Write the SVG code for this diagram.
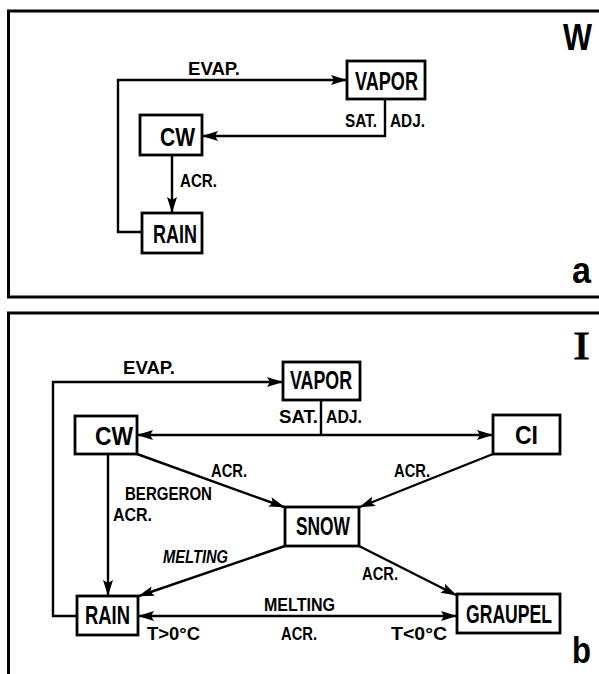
<svg xmlns="http://www.w3.org/2000/svg" width="599" height="674" viewBox="0 0 599 674">
<style>
.panel{fill:none;stroke:#000;stroke-width:3}
.box{fill:#fff;stroke:#000;stroke-width:2.8}
.ln{fill:none;stroke:#000;stroke-width:2.4}
.nl{font-family:"Liberation Sans",Arial,sans-serif;font-weight:bold;font-size:25px;fill:#000}
.sl{font-family:"Liberation Sans",Arial,sans-serif;font-weight:bold;font-size:18px;fill:#000}
.big{font-family:"Liberation Sans",Arial,sans-serif;font-weight:bold;font-size:36px;fill:#000}
</style>
<defs>
<marker id="ah" markerUnits="userSpaceOnUse" markerWidth="16" markerHeight="12" refX="15" refY="6" orient="auto-start-reverse" viewBox="0 0 16 12">
<path d="M0,1 L16,6 L0,11 L3,6 Z" fill="#000"/>
</marker>
</defs>
<rect width="599" height="674" fill="#fff"/>
<g id="panel-a">
<rect class="panel" x="8.5" y="11" width="600" height="286"/>
<text class="big" x="563" y="50" textLength="29" lengthAdjust="spacingAndGlyphs">W</text>
<text class="big" x="572" y="283" textLength="19" lengthAdjust="spacingAndGlyphs">a</text>
</g>
<g id="panel-b">
<rect class="panel" x="8.5" y="313" width="600" height="380"/>
<text x="573" y="359" font-family="Liberation Serif,serif" font-size="39" textLength="17" lengthAdjust="spacingAndGlyphs" stroke="#000" stroke-width="0.8">I</text>
<text class="big" x="572" y="663" textLength="19" lengthAdjust="spacingAndGlyphs">b</text>
</g>
<g id="connectors">
<path class="ln" d="M142,232 H118 V80 H346" marker-end="url(#ah)"/>
<path class="ln" d="M385,99 V136 H203" marker-end="url(#ah)"/>
<path class="ln" d="M172,155 V212" marker-end="url(#ah)"/>
<path class="ln" d="M77,616 H53 V382 H282" marker-end="url(#ah)"/>
<path class="ln" d="M321,400 V435"/>
<path class="ln" d="M321,435 H138" marker-end="url(#ah)"/>
<path class="ln" d="M321,435 H492" marker-end="url(#ah)"/>
<path class="ln" d="M137,454 L284,507" marker-end="url(#ah)"/>
<path class="ln" d="M493,454 L360,507" marker-end="url(#ah)"/>
<path class="ln" d="M108,454 V595" marker-end="url(#ah)"/>
<path class="ln" d="M285,546 L139,596" marker-end="url(#ah)"/>
<path class="ln" d="M359,546 L456,595" marker-end="url(#ah)"/>
<path class="ln" d="M139,616 H456" marker-start="url(#ah)" marker-end="url(#ah)"/>
</g>
<g id="labels">
<text class="sl" x="188" y="75" textLength="52" lengthAdjust="spacingAndGlyphs">EVAP.</text>
<text class="sl" x="345" y="127" textLength="32" lengthAdjust="spacingAndGlyphs">SAT.</text>
<text class="sl" x="390" y="127" textLength="35" lengthAdjust="spacingAndGlyphs">ADJ.</text>
<text class="sl" x="180" y="187" textLength="37" lengthAdjust="spacingAndGlyphs">ACR.</text>
<text class="sl" x="123" y="374" textLength="52" lengthAdjust="spacingAndGlyphs">EVAP.</text>
<text class="sl" x="279" y="423" textLength="39" lengthAdjust="spacingAndGlyphs">SAT.</text>
<text class="sl" x="326" y="423" textLength="36" lengthAdjust="spacingAndGlyphs">ADJ.</text>
<text class="sl" x="211" y="477" textLength="36" lengthAdjust="spacingAndGlyphs">ACR.</text>
<text class="sl" x="125" y="500" textLength="87" lengthAdjust="spacingAndGlyphs">BERGERON</text>
<text class="sl" x="113" y="521" textLength="39" lengthAdjust="spacingAndGlyphs">ACR.</text>
<text class="sl" x="394" y="477" textLength="36" lengthAdjust="spacingAndGlyphs">ACR.</text>
<text class="sl" x="163" y="563" font-style="italic" textLength="65" lengthAdjust="spacingAndGlyphs">MELTING</text>
<text class="sl" x="362" y="580" textLength="36" lengthAdjust="spacingAndGlyphs">ACR.</text>
<text class="sl" x="264" y="611" textLength="71" lengthAdjust="spacingAndGlyphs">MELTING</text>
<text class="sl" x="281" y="640" textLength="36" lengthAdjust="spacingAndGlyphs">ACR.</text>
<text class="sl" x="147" y="640" textLength="53" lengthAdjust="spacingAndGlyphs">T&gt;0°C</text>
<text class="sl" x="391" y="640" textLength="56" lengthAdjust="spacingAndGlyphs">T&lt;0°C</text>
</g>
<g id="a-vapor"><rect class="box" x="347" y="61" width="78" height="38"/><text class="nl" x="355" y="90" textLength="63" lengthAdjust="spacingAndGlyphs">VAPOR</text></g>
<g id="a-cw"><rect class="box" x="140" y="115" width="62" height="40"/><text class="nl" x="160" y="146" textLength="35" lengthAdjust="spacingAndGlyphs">CW</text></g>
<g id="a-rain"><rect class="box" x="142" y="213" width="60" height="40"/><text class="nl" x="153" y="243" textLength="44" lengthAdjust="spacingAndGlyphs">RAIN</text></g>
<g id="b-vapor"><rect class="box" x="283" y="362" width="77" height="38"/><text class="nl" x="290" y="389" textLength="62" lengthAdjust="spacingAndGlyphs">VAPOR</text></g>
<g id="b-cw"><rect class="box" x="75" y="416" width="62" height="38"/><text class="nl" x="95" y="445" textLength="38" lengthAdjust="spacingAndGlyphs">CW</text></g>
<g id="b-ci"><rect class="box" x="493" y="415" width="67" height="39"/><text class="nl" x="515" y="444" textLength="23" lengthAdjust="spacingAndGlyphs">CI</text></g>
<g id="b-snow"><rect class="box" x="285" y="507" width="74" height="39"/><text class="nl" x="296" y="535" textLength="54" lengthAdjust="spacingAndGlyphs">SNOW</text></g>
<g id="b-rain"><rect class="box" x="77" y="596" width="61" height="39"/><text class="nl" x="85" y="624" textLength="45" lengthAdjust="spacingAndGlyphs">RAIN</text></g>
<g id="b-graupel"><rect class="box" x="457" y="594" width="103" height="39"/><text class="nl" x="466" y="623" textLength="86" lengthAdjust="spacingAndGlyphs">GRAUPEL</text></g>
</svg>
